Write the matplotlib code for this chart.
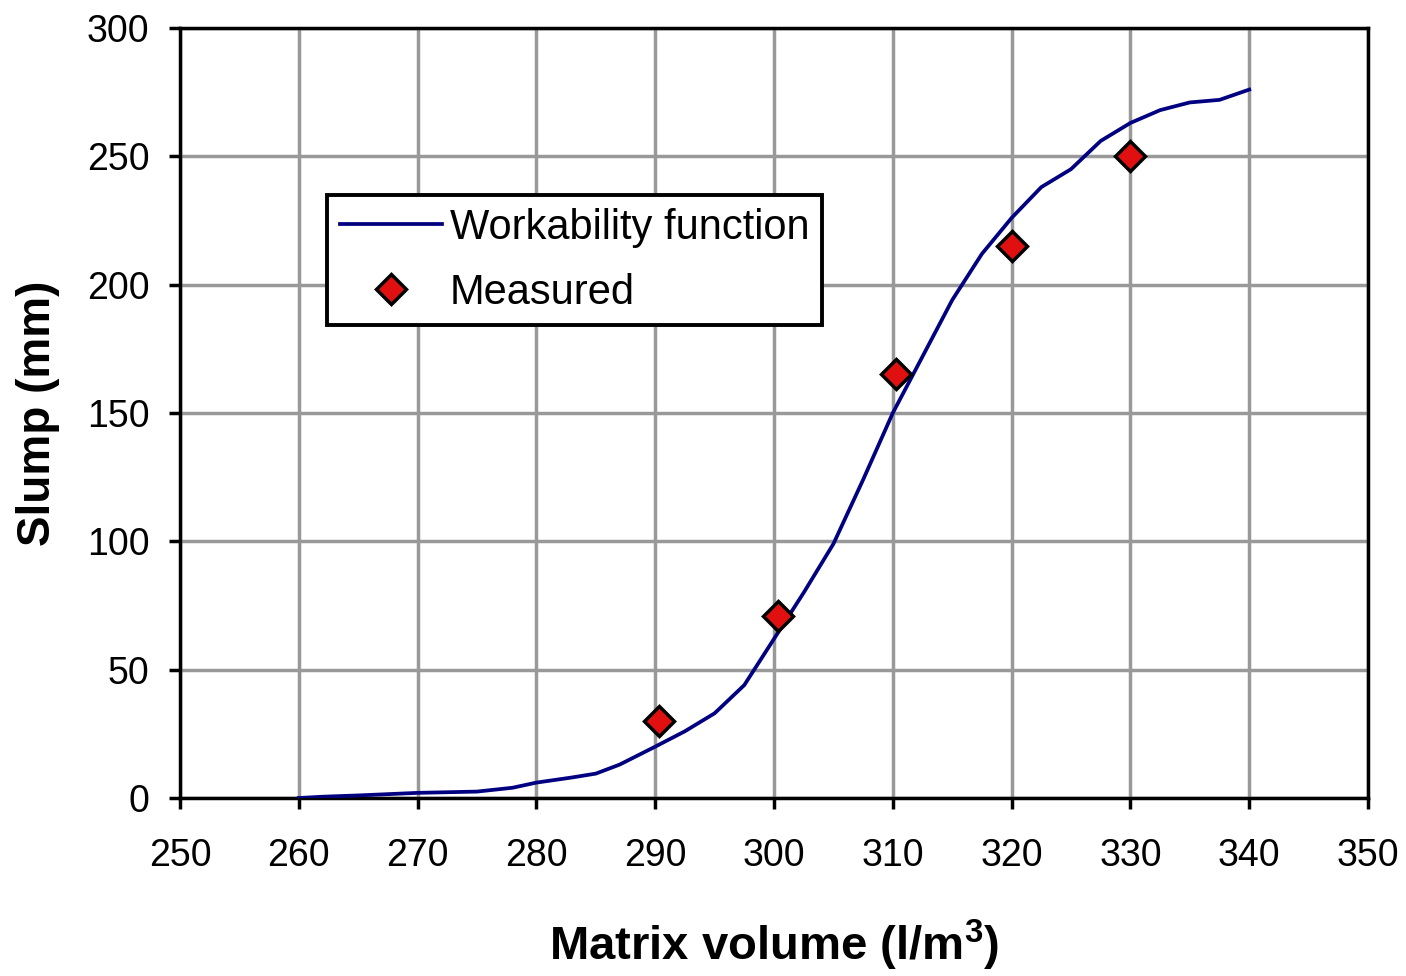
import matplotlib.pyplot as plt
import numpy as np

plt.rcParams['font.family'] = ['Liberation Sans', 'DejaVu Sans']

# workability function
curve_x = [260, 262, 265, 270, 275, 278, 280, 283, 285, 287, 290, 292.5, 295, 297.5,
           300, 302.5, 305, 307.5, 310, 312.5, 315, 317.5, 320, 322.5, 325, 327.5,
           330, 332.5, 335, 337.5, 340]
curve_y = [0, 0.5, 1, 2, 2.5, 4, 6, 8, 9.5, 13, 20, 26, 33, 44,
           62, 80, 99, 124, 150, 172, 194, 212, 226, 238, 245, 256,
           263, 268, 271, 272, 276]

meas_x = [290.3, 300.3, 310.3, 320, 330]
meas_y = [30, 71, 165, 215, 250]

W, H = 1406, 976
fig = plt.figure(figsize=(W / 100, H / 100), dpi=100)
ax = fig.add_axes([180 / W, 1 - 798 / H, 1188 / W, 770 / H])

ax.plot(curve_x, curve_y, color='#000080', lw=2.7, label='Workability function', zorder=3)
ax.plot(meas_x, meas_y, 'D', ms=15, mfc='#e01010', mec='black', mew=2.5,
        label='Measured', zorder=4)

ax.set_xlim(250, 350)
ax.set_ylim(0, 300)
ax.set_xticks(np.arange(250, 351, 10))
ax.set_yticks(np.arange(0, 301, 50))
ax.grid(True, color='#999999', lw=2.5)
ax.set_axisbelow(True)
for s in ax.spines.values():
    s.set_linewidth(2.5)
    s.set_color('black')
ax.tick_params(direction='out', length=8, width=2.5, labelsize=27)
ax.tick_params(axis='x', pad=21)
ax.tick_params(axis='y', pad=14)

fig.text(0.5 * (180 + 1368) / W, 1 - 945 / H, 'Matrix volume (l/m$^\\mathregular{3}$)',
         ha='center', va='center', fontsize=34, fontweight='bold')
fig.text(38 / W, 1 - 413 / H, 'Slump (mm)', rotation=90, ha='center', va='center',
         fontsize=33, fontweight='bold')

leg = ax.legend(loc='upper left', bbox_to_anchor=(327 / W, 1 - 195 / H),
                bbox_transform=fig.transFigure, borderaxespad=0, fancybox=False,
                edgecolor='black', fontsize=30, handlelength=2.45, framealpha=1,
                borderpad=0.3, labelspacing=0.6, handletextpad=0.2)
leg.get_frame().set_linewidth(2.8)

fig.savefig('out.png', dpi=100)
